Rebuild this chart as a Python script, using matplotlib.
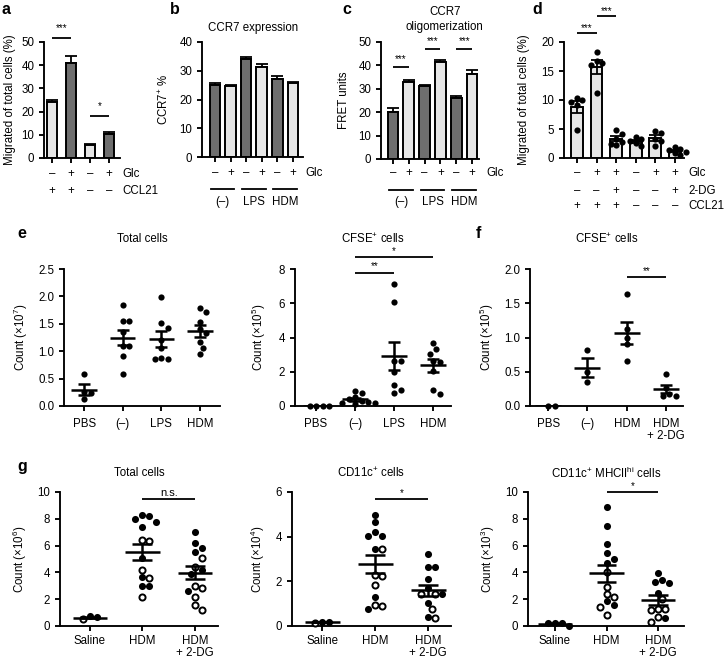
import numpy as np
import matplotlib
matplotlib.use('Agg')
import matplotlib.pyplot as plt

plt.rcParams['font.family'] = ['Liberation Sans', 'DejaVu Sans']
plt.rcParams['font.size'] = 8.3
plt.rcParams['mathtext.fontset'] = 'custom'
plt.rcParams['mathtext.rm'] = 'Liberation Sans'
plt.rcParams['mathtext.it'] = 'Liberation Sans:italic'
plt.rcParams['axes.linewidth'] = 1.35
plt.rcParams['xtick.major.width'] = 1.35
plt.rcParams['ytick.major.width'] = 1.35
plt.rcParams['xtick.major.size'] = 3.5
plt.rcParams['ytick.major.size'] = 3.5

# ---- data ----
# a: migration, bars
a_vals = [24, 41, 5.5, 10.5]
a_err = [1.2, 3.0, 0.6, 0.6]
a_glc = ['–', '+', '–', '+']
a_ccl21 = ['+', '+', '–', '–']

# b: CCR7 expression
b_vals = [25.0, 24.6, 34.0, 31.2, 27.0, 25.7]
b_err = [0.9, 0.5, 0.8, 1.0, 1.1, 0.4]

# c: CCR7 oligomerization
c_vals = [20.0, 33.0, 31.0, 41.5, 26.0, 36.3]
c_err = [1.8, 0.8, 0.6, 0.8, 0.9, 1.8]

pair_glc = ['–', '+', '–', '+', '–', '+']
pair_groups = ['(–)', 'LPS', 'HDM']

# d: migration with 2-DG
d_points = [[10.4, 10.0, 9.6, 9.2, 4.8],
            [18.2, 16.8, 16.4, 16.0, 11.2],
            [4.9, 4.2, 3.3, 2.8, 2.5, 2.2],
            [3.6, 3.3, 3.0, 2.6, 2.0],
            [4.7, 4.3, 3.3, 3.0, 2.0],
            [1.9, 1.6, 1.3, 1.0, 0.8, 0.6]]
d_glc = ['–', '+', '+', '–', '+', '+']
d_2dg = ['–', '–', '+', '–', '–', '+']
d_ccl21 = ['+', '+', '+', '–', '–', '–']

# e: in vivo counts
e_groups = ['PBS', '(–)', 'LPS', 'HDM']
e_total = [[0.58, 0.25, 0.23, 0.12],
           [1.85, 1.55, 1.55, 1.35, 1.1, 1.1, 0.92, 0.58],
           [1.98, 1.52, 1.42, 1.2, 1.05, 0.88, 0.85, 0.85],
           [1.78, 1.71, 1.54, 1.41, 1.33, 1.16, 1.05, 0.94]]
e_cfse = [[0, 0, 0, 0],
          [0.9, 0.75, 0.5, 0.4, 0.3, 0.25, 0.2, 0.15, 0.1],
          [7.1, 6.1, 2.6, 2.6, 2.0, 1.25, 0.95, 0.75],
          [3.7, 3.35, 3.05, 2.6, 2.55, 2.05, 0.95, 0.7]]

# f: CFSE+ with 2-DG
f_groups = ['PBS', '(–)', 'HDM', 'HDM\n+ 2-DG']
f_cfse = [[0, 0],
          [0.82, 0.5, 0.35],
          [1.63, 1.12, 1.0, 0.9, 0.65],
          [0.47, 0.27, 0.18, 0.15, 0.15]]

# g: filled and open symbols
g_groups = ['Saline', 'HDM', 'HDM\n+ 2-DG']
g_total_filled = [[0.75, 0.65],
                  [8.28, 8.21, 8.01, 7.79, 7.38, 5.1, 3.63, 3.01, 3.01],
                  [7.0, 6.2, 5.8, 5.5, 4.2, 3.9, 2.6]]
g_total_open = [[0.5],
                [6.32, 6.45, 4.17, 3.55, 2.16],
                [5.05, 4.4, 2.85, 3.0, 2.15, 1.6, 1.2]]
g_cd11c_filled = [[0.2, 0.18],
                  [4.97, 4.65, 4.19, 4.01, 4.01, 3.47, 1.29, 0.78],
                  [3.21, 2.62, 2.62, 2.1, 1.71, 1.44, 1.03, 0.41]]
g_cd11c_open = [[0.15],
                [3.47, 2.28, 2.25, 1.84, 0.96, 0.9],
                [1.45, 1.45, 0.75, 0.35]]
g_mhc_filled = [[0.25, 0.22, 0.2, 0.02],
                [8.9, 7.5, 6.13, 5.47, 5.02, 4.73, 1.84, 1.54],
                [3.92, 3.26, 3.19, 3.46, 2.48, 0.56]]
g_mhc_open = [[],
              [4.04, 2.94, 2.4, 2.16, 1.42, 0.81],
              [2.0, 1.25, 1.25, 1.18, 0.64, 0.32]]

DARK = '#6e6e6e'
LIGHT = '#e6e6e6'
W, H = 724, 662

fig = plt.figure(figsize=(W / 100, H / 100), dpi=100)


def make_ax(x0, y0, x1, y1):
    # pixel box (left, top, right, bottom) -> figure axes
    ax = fig.add_axes([x0 / W, 1 - y1 / H, (x1 - x0) / W, (y1 - y0) / H])
    ax.spines['top'].set_visible(False)
    ax.spines['right'].set_visible(False)
    return ax


def letter(x, y, s):
    fig.text(x / W, 1 - y / H, s, fontsize=11.5, fontweight='bold', va='center', ha='left')


def sig(ax, x1, x2, y, ytext, s, fs=7):
    ax.plot([x1, x2], [y, y], color='k', lw=1.3, clip_on=False, solid_capstyle='butt')
    ax.text((x1 + x2) / 2, ytext, s, ha='center', va='center', fontsize=fs, clip_on=False)


def rows(ax, labels_list, names, ys, xname):
    tr = ax.get_xaxis_transform()
    for labels, name, y in zip(labels_list, names, ys):
        for i, s in enumerate(labels):
            ax.text(i, y, s, transform=tr, ha='center', va='center')
        ax.text(xname, y, name, transform=tr, ha='left', va='center')


def bars(ax, vals, err, colors, width):
    x = np.arange(len(vals))
    ax.errorbar(x, vals, yerr=[np.zeros(len(vals)), err], fmt='none', ecolor='k',
                elinewidth=1.3, capsize=4, capthick=1.3, zorder=1)
    ax.bar(x, vals, width=width, color=colors, edgecolor='k', linewidth=1.4, zorder=2)
    ax.set_xticks(x)
    ax.set_xticklabels([])
    return x


def swarm(ax, x0, vals, diam):
    vals = np.asarray(vals, float)
    if len(vals) == 0:
        return vals
    p = ax.transData.transform(np.column_stack([np.full(len(vals), x0), vals]))
    ys = p[:, 1]
    offs = np.zeros(len(vals))
    placed = []
    step = diam * 0.5
    for i in np.argsort(-ys):
        k = 0
        found = None
        while found is None:
            cands = [0.0] if k == 0 else [k * step, -k * step]
            for c in cands:
                if all((c - ox) ** 2 + (ys[i] - oy) ** 2 >= diam ** 2 for ox, oy in placed):
                    found = c
                    break
            k += 1
        offs[i] = found
        placed.append((found, ys[i]))
    sx = ax.transData.transform((1, 0))[0] - ax.transData.transform((0, 0))[0]
    return x0 + offs / sx


def mean_sem(ax, x, vals, half=0.32, cap=0.16):
    v = np.asarray(vals, float)
    m = v.mean()
    s = v.std(ddof=1) / np.sqrt(len(v)) if len(v) > 1 else 0
    ax.hlines(m, x - half, x + half, color='k', lw=1.8, zorder=4)
    if s > 0:
        ax.vlines(x, m - s, m + s, color='k', lw=1.8, zorder=4)
        ax.hlines([m - s, m + s], x - cap, x + cap, color='k', lw=1.8, zorder=4)


def scatter_panel(ax, groups, filled, opened, ms, diam, half, cap, pad=5):
    for i in range(len(groups)):
        allv = list(filled[i]) + list(opened[i])
        xs = swarm(ax, i, allv, diam)
        nf = len(filled[i])
        ax.scatter(xs[:nf], allv[:nf], s=ms, color='k', zorder=3, clip_on=False, linewidths=0)
        if len(allv) > nf:
            ax.scatter(xs[nf:], allv[nf:], s=ms * 0.75, facecolor='white', edgecolor='k',
                       linewidths=1.4, zorder=3, clip_on=False)
        mean_sem(ax, i, allv, half, cap)
    ax.set_xticks(range(len(groups)))
    ax.set_xticklabels(groups, linespacing=1.05)
    ax.tick_params(axis='x', pad=pad)


# ---- a ----
ax = make_ax(44, 42, 120, 158)
bars(ax, a_vals, a_err, [LIGHT, DARK, LIGHT, DARK], 0.56)
ax.set_xlim(-0.42, 3.58)
ax.set_ylim(0, 50)
ax.set_yticks(range(0, 51, 10))
ax.set_ylabel('Migrated of total cells (%)')
rows(ax, [a_glc, a_ccl21], ['Glc', 'CCL21'], [-0.14, -0.285], 3.72)
sig(ax, 0, 1, 51.7, 56, '***')
sig(ax, 2, 3, 18.1, 22.3, '*')
letter(2, 9, 'a')

# ---- b ----
ax = make_ax(202, 42, 303, 157)
bars(ax, b_vals, b_err, [DARK, LIGHT] * 3, 0.68)
ax.set_xlim(-0.83, 5.64)
ax.set_ylim(0, 40)
ax.set_yticks(range(0, 41, 10))
ax.set_ylabel('CCR7$^{+}$ %', labelpad=6)
ax.text(0.51, 1.12, 'CCR7 expression', transform=ax.transAxes, ha='center', va='center')
rows(ax, [pair_glc], ['Glc'], [-0.14], 5.8)
tr = ax.get_xaxis_transform()
for k, g in enumerate(pair_groups):
    ax.plot([2 * k - 0.25, 2 * k + 1.25], [-0.275, -0.275], transform=tr, color='k', lw=1.3, clip_on=False)
    ax.text(2 * k + 0.5, -0.39, g, transform=tr, ha='center', va='center')
letter(170, 9, 'b')

# ---- c ----
ax = make_ax(381, 42, 479, 159)
bars(ax, c_vals, c_err, [DARK, LIGHT] * 3, 0.68)
ax.set_xlim(-0.76, 5.44)
ax.set_ylim(0, 50)
ax.set_yticks(range(0, 51, 10))
ax.set_ylabel('FRET units', labelpad=6)
ax.text(0.65, 1.19, 'CCR7\noligomerization', transform=ax.transAxes, ha='center', va='center',
        linespacing=1.3)
rows(ax, [pair_glc], ['Glc'], [-0.12], 5.9)
tr = ax.get_xaxis_transform()
for k, g in enumerate(pair_groups):
    ax.plot([2 * k - 0.25, 2 * k + 1.25], [-0.265, -0.265], transform=tr, color='k', lw=1.3, clip_on=False)
    ax.text(2 * k + 0.5, -0.37, g, transform=tr, ha='center', va='center')
sig(ax, 0, 1, 39.3, 42.6, '***')
sig(ax, 2, 3, 47, 50.3, '***')
sig(ax, 4, 5, 47, 50.3, '***')
letter(342, 9, 'c')

# ---- d ----
ax = make_ax(564, 42, 684, 158)
d_mean = [np.mean(p) for p in d_points]
d_sem = [np.std(p, ddof=1) / np.sqrt(len(p)) for p in d_points]
x = np.arange(len(d_points))
ax.bar(x, d_mean, width=0.6, color=LIGHT, edgecolor='k', linewidth=1.4, zorder=1)
ax.set_xlim(-0.66, 5.46)
ax.set_ylim(0, 20)
for i, p in enumerate(d_points):
    xs = swarm(ax, i, p, 5.5)
    ax.scatter(xs, p, s=20, color='k', zorder=3, linewidths=0, clip_on=False)
ax.errorbar(x, d_mean, yerr=d_sem, fmt='none', ecolor='k', elinewidth=1.3, capsize=4,
            capthick=1.3, zorder=4)
ax.set_xticks(x)
ax.set_xticklabels([])
ax.set_yticks(range(0, 21, 5))
ax.set_ylabel('Migrated of total cells (%)', labelpad=8)
rows(ax, [d_glc, d_2dg, d_ccl21], ['Glc', '2-DG', 'CCL21'], [-0.13, -0.285, -0.415], 5.7)
sig(ax, 0, 1, 21.6, 22.4, '***')
sig(ax, 1, 2, 24.5, 25.3, '***')
letter(532, 9, 'd')

# ---- e (total cells) ----
ax = make_ax(64, 269, 220, 406)
ax.set_xlim(-0.52, 3.52)
ax.set_ylim(0, 2.5)
scatter_panel(ax, e_groups, e_total, [[]] * 4, 20, 6.5, 0.33, 0.16)
ax.set_yticks(np.arange(0, 2.51, 0.5))
ax.set_yticklabels([f'{v:.1f}' for v in np.arange(0, 2.51, 0.5)])
ax.set_ylabel('Count (×10$^{7}$)', labelpad=6)
ax.text(0.5, 1.22, 'Total cells', transform=ax.transAxes, ha='center', va='center')
letter(17, 233, 'e')

# ---- e (CFSE+) ----
ax = make_ax(295, 269, 451, 406)
ax.set_xlim(-0.54, 3.46)
ax.set_ylim(0, 8)
scatter_panel(ax, e_groups, e_cfse, [[]] * 4, 20, 6.5, 0.33, 0.16)
ax.set_yticks(range(0, 9, 2))
ax.set_ylabel('Count (×10$^{5}$)', labelpad=8)
ax.text(0.5, 1.22, 'CFSE$^{+}$ cells', transform=ax.transAxes, ha='center', va='center')
sig(ax, 1, 2, 7.77, 8.15, '**')
sig(ax, 1, 3, 8.7, 9.05, '*')

# ---- f ----
ax = make_ax(530, 269, 683, 406)
ax.set_xlim(-0.46, 3.43)
ax.set_ylim(0, 2.0)
scatter_panel(ax, f_groups, f_cfse, [[]] * 4, 20, 6.5, 0.33, 0.16)
ax.set_yticks(np.arange(0, 2.01, 0.5))
ax.set_yticklabels([f'{v:.1f}' for v in np.arange(0, 2.01, 0.5)])
ax.set_ylabel('Count (×10$^{5}$)', labelpad=6)
ax.text(0.5, 1.22, 'CFSE$^{+}$ cells', transform=ax.transAxes, ha='center', va='center')
sig(ax, 2, 3, 1.88, 1.97, '**')
letter(476, 233, 'f')

# ---- g ----
g_specs = [((60, 492, 218, 626), 10, range(0, 11, 2), '6', 'Total cells',
            g_total_filled, g_total_open, 9.5, 9.9, 'n.s.', -0.57, 2.44),
           ((292, 492, 451, 626), 6, range(0, 7, 2), '4', 'CD11c$^{+}$ cells',
            g_cd11c_filled, g_cd11c_open, 5.7, 5.95, '*', -0.57, 2.43),
           ((528, 492, 684, 626), 10, range(0, 11, 2), '3', 'CD11c$^{+}$ MHCII$^{\\mathrm{hi}}$ cells',
            g_mhc_filled, g_mhc_open, 10.0, 10.45, '*', -0.52, 2.5)]
for box, ymax, yt, ex, title, fil, opn, ly, ty, st, xl0, xl1 in g_specs:
    ax = make_ax(*box)
    ax.set_xlim(xl0, xl1)
    ax.set_ylim(0, ymax)
    scatter_panel(ax, g_groups, fil, opn, 26, 7.0, 0.33, 0.19, pad=3)
    ax.set_yticks(list(yt))
    ax.set_ylabel('Count (×10$^{%s}$)' % ex, labelpad=6)
    ax.text(0.5, 1.14, title, transform=ax.transAxes, ha='center', va='center')
    sig(ax, 1, 2, ly, ty, st, fs=7 if st != 'n.s.' else 8)
letter(17, 467, 'g')

fig.savefig('out.png', dpi=100)
